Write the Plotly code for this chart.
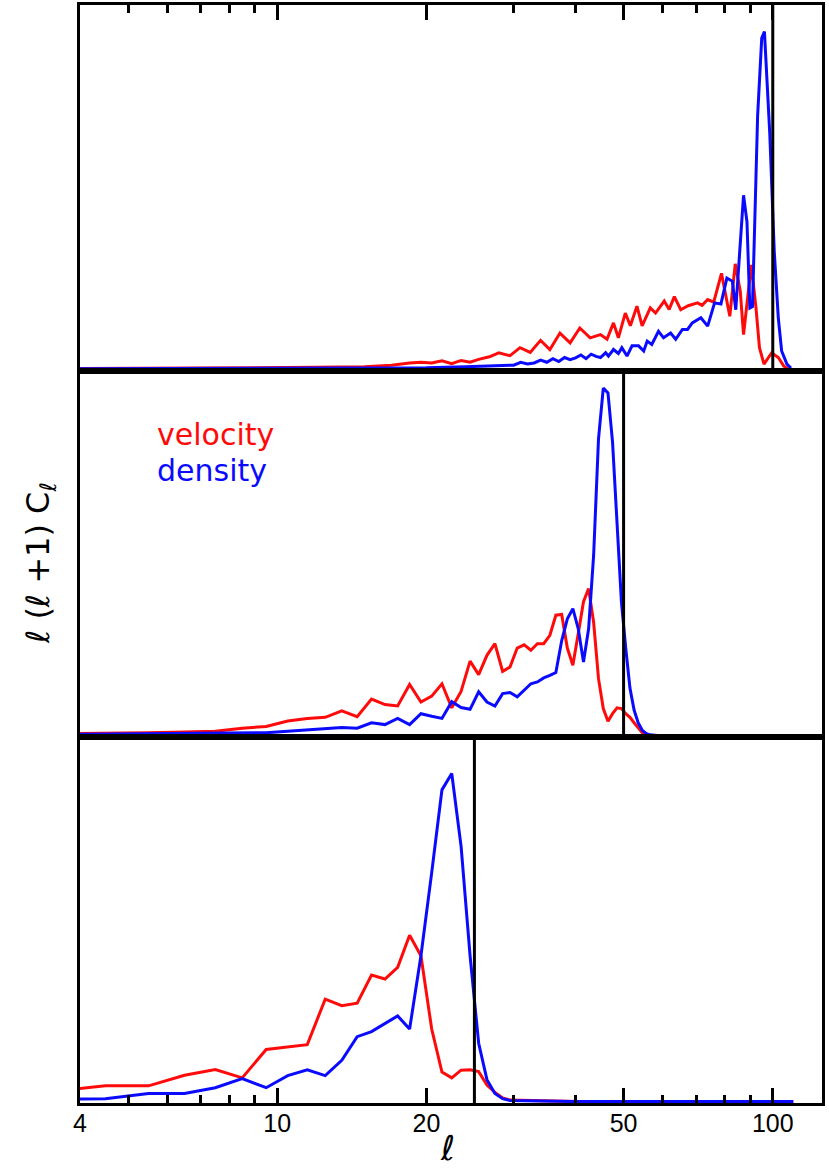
import math
import plotly.graph_objects as go
from plotly.subplots import make_subplots

# ---------------- data (values in arbitrary units, each panel normalised) ----------------
# top panel (cutoff l = 100)
top_vel_l = [4, 8, 12, 15, 17, 18.5, 19.5, 20.5, 21.5, 22.5, 23.5, 24.5, 25.5, 26.8, 28, 29.5,
             30.9, 32.4, 34, 35.5, 37.2, 39, 40.8, 42.8, 44.9, 46.3, 47.7, 48.8, 50.4, 51.6,
             53.2, 54.5, 56.6, 58, 60.4, 61.8, 63.3, 65.2, 67.5, 70.5, 72, 73.9, 76, 78.8,
             80.8, 81.9, 84, 86, 87.3, 88.8, 90.5, 92.5, 94, 96, 98.6, 99.5, 102.6, 105.2, 107.5]
top_vel = [0.003, 0.004, 0.006, 0.008, 0.012, 0.018, 0.02, 0.018, 0.024, 0.016, 0.025, 0.02,
           0.028, 0.035, 0.046, 0.038, 0.06, 0.047, 0.08, 0.055, 0.1, 0.073, 0.114, 0.087,
           0.096, 0.083, 0.128, 0.087, 0.155, 0.12, 0.174, 0.12, 0.169, 0.155, 0.188, 0.165,
           0.2, 0.164, 0.175, 0.183, 0.176, 0.192, 0.185, 0.264, 0.192, 0.146, 0.29, 0.214,
           0.096, 0.196, 0.287, 0.169, 0.06, 0.015, 0.037, 0.046, 0.033, 0.01, 0.0]

top_den_l = [4, 10, 15, 20, 24, 26, 28, 30, 31, 32, 33, 34, 35, 36, 37, 38, 39, 40, 41, 42,
             43, 44, 44.9, 46.0, 46.6, 47.7, 48.8, 49.6, 50.8, 52.0, 53.6, 54.9, 55.8, 57.0,
             58.8, 60.2, 62.2, 63.7, 65.7, 67.3, 68.8, 71.6, 73.9, 76.3, 78.6, 80.8, 82.9,
             84.2, 87.3, 88.7, 89.9, 91.0, 93.2, 95.0, 96.2, 98.6, 100.7, 102.6, 104.2, 106.8, 108.8]
top_den = [0.002, 0.003, 0.004, 0.005, 0.008, 0.009, 0.012, 0.012, 0.02, 0.015, 0.018, 0.026,
           0.02, 0.03, 0.022, 0.033, 0.027, 0.032, 0.04, 0.03, 0.042, 0.036, 0.033, 0.046,
           0.037, 0.055, 0.044, 0.06, 0.037, 0.065, 0.065, 0.051, 0.078, 0.069, 0.105, 0.087,
           0.1, 0.083, 0.11, 0.11, 0.128, 0.142, 0.119, 0.183, 0.18, 0.251, 0.242, 0.164,
           0.478, 0.405, 0.169, 0.173, 0.696, 0.909, 0.927, 0.65, 0.323, 0.142, 0.051, 0.015, 0.004]

# middle panel (cutoff l = 50)
mid_l = [3.5, 4.5, 5.5, 6.5, 7.5, 8.5, 9.5, 10.5, 11.5, 12.5, 13.5, 14.5, 15.5, 16.5, 17.5, 18.5,
         19.5, 20.5, 21.5, 22.5, 23.5, 24.5, 25.5, 26.5, 27.5, 28.5, 29.5, 30.5, 31.5, 32.5,
         33.5, 34.5, 35.5, 36.5, 37.5, 38.5, 39.5, 40.5, 41.5, 42.5, 43.5, 44.5, 45.5, 46.5,
         47.5, 48.5, 49.5, 50.5, 51.5, 52.5, 53.5, 54.5, 55.5, 56.5, 57.5, 58.5]
mid_vel = [0.005, 0.006, 0.008, 0.01, 0.012, 0.02, 0.025, 0.04, 0.047, 0.05, 0.068, 0.052, 0.1,
           0.085, 0.081, 0.14, 0.092, 0.108, 0.142, 0.076, 0.121, 0.204, 0.167, 0.22, 0.252,
           0.176, 0.188, 0.24, 0.249, 0.234, 0.252, 0.252, 0.275, 0.33, 0.332, 0.24, 0.193,
           0.28, 0.367, 0.403, 0.311, 0.156, 0.074, 0.039, 0.06, 0.076, 0.074, 0.06, 0.05,
           0.035, 0.02, 0.008, 0.003, 0.0, 0.0, 0.0]
mid_den = [0.003, 0.004, 0.005, 0.005, 0.006, 0.007, 0.008, 0.012, 0.015, 0.018, 0.022, 0.02, 0.035,
           0.03, 0.047, 0.03, 0.06, 0.053, 0.047, 0.093, 0.077, 0.072, 0.12, 0.092, 0.081,
           0.115, 0.118, 0.106, 0.124, 0.142, 0.147, 0.158, 0.165, 0.173, 0.26, 0.32, 0.348,
           0.293, 0.202, 0.293, 0.494, 0.814, 0.953, 0.94, 0.805, 0.576, 0.366, 0.24, 0.13,
           0.07, 0.035, 0.015, 0.006, 0.002, 0.0, 0.0]

# bottom panel (cutoff l = 25)
bot_l = [3.5, 4.5, 5.5, 6.5, 7.5, 8.5, 9.5, 10.5, 11.5, 12.5, 13.5, 14.5, 15.5, 16.5, 17.5,
         18.5, 19.5, 20.5, 21.5, 22.5, 23.5, 24.5, 25.5, 26.5, 27.5, 28.5, 29.5, 40, 70, 110]
bot_vel = [0.028, 0.043, 0.043, 0.072, 0.088, 0.065, 0.143, 0.15, 0.156, 0.281, 0.263, 0.27,
           0.347, 0.336, 0.368, 0.456, 0.40, 0.199, 0.081, 0.065, 0.086, 0.087, 0.082, 0.045,
           0.025, 0.01, 0.004, 0.0, 0.0, 0.0]
bot_den = [0.006, 0.008, 0.022, 0.022, 0.038, 0.063, 0.038, 0.071, 0.087, 0.071, 0.113, 0.178,
           0.192, 0.213, 0.235, 0.199, 0.40, 0.628, 0.855, 0.90, 0.70, 0.40, 0.16, 0.06,
           0.022, 0.008, 0.003, 0.0, 0.0, 0.0]

cutoffs = [100, 50, 25]
major_ticks = [4, 10, 20, 50, 100]
major_text = ["4", "10", "20", "50", "100"]
minor_ticks = [5, 6, 7, 8, 9, 30, 40, 60, 70, 80, 90]
x_range = [4, 125.7]

RED = "#ff0a0a"
BLUE = "#0a0aff"

panels = [
    (top_vel_l, top_vel, top_den_l, top_den),
    (mid_l, mid_vel, mid_l, mid_den),
    (bot_l, bot_vel, bot_l, bot_den),
]

fig = make_subplots(rows=3, cols=1, shared_xaxes=True, vertical_spacing=0)

for i, (lv, v, ld, d) in enumerate(panels):
    r = i + 1
    fig.add_trace(go.Scatter(x=lv, y=v, mode="lines", line=dict(color=RED, width=3),
                             showlegend=False, hoverinfo="skip"), row=r, col=1)
    fig.add_trace(go.Scatter(x=ld, y=d, mode="lines", line=dict(color=BLUE, width=3),
                             showlegend=False, hoverinfo="skip"), row=r, col=1)
    fig.add_trace(go.Scatter(x=[cutoffs[i], cutoffs[i]], y=[-1, 2], mode="lines",
                             line=dict(color="black", width=3),
                             showlegend=False, hoverinfo="skip"), row=r, col=1)

xr = [math.log10(x_range[0]), math.log10(x_range[1])]
axis_common = dict(type="log", range=xr, showline=True, linecolor="black", linewidth=2.5,
                   mirror=True, showgrid=False, zeroline=False)

fig.update_xaxes(**axis_common)
# top panel: ticks on top edge
fig.update_xaxes(row=1, col=1, side="top", ticks="inside", ticklen=15, tickwidth=2.5,
                 tickcolor="black", tickvals=major_ticks, showticklabels=False,
                 minor=dict(tickvals=minor_ticks, ticks="inside", ticklen=8, tickwidth=2.5,
                            tickcolor="black", showgrid=False))
fig.update_xaxes(row=2, col=1, ticks="", showticklabels=False)
fig.update_xaxes(row=3, col=1, ticks="inside", ticklen=15, tickwidth=2.5, tickcolor="black",
                 tickvals=major_ticks, ticktext=major_text, showticklabels=True,
                 ticklabelstandoff=-4,
                 tickfont=dict(family="Liberation Sans, Arial", size=25, color="black"),
                 minor=dict(tickvals=minor_ticks, ticks="inside", ticklen=8, tickwidth=2.5,
                            tickcolor="black", showgrid=False))

fig.update_yaxes(range=[-0.004, 1.0], showline=True, linecolor="black", linewidth=2.5,
                 mirror=True, ticks="", showticklabels=False, showgrid=False, zeroline=False)

fig.add_annotation(xref="paper", yref="paper", x=(155 - 80) / 742, y=(1103 - 435) / 1098,
                   xanchor="left", yanchor="middle", showarrow=False, text="velocity",
                   font=dict(family="DejaVu Sans", size=30, color=RED))
fig.add_annotation(xref="paper", yref="paper", x=(155 - 80) / 742, y=(1103 - 470) / 1098,
                   xanchor="left", yanchor="middle", showarrow=False, text="density",
                   font=dict(family="DejaVu Sans", size=30, color=BLUE))
fig.add_annotation(xref="paper", yref="paper", x=(40 - 80) / 742, y=(1103 - 563) / 1098,
                   xanchor="center", yanchor="middle", showarrow=False, textangle=-90,
                   text="ℓ (ℓ +1) C<sub>ℓ</sub>",
                   font=dict(family="DejaVu Sans", size=32, color="black"))
fig.add_annotation(xref="paper", yref="paper", x=(447 - 80) / 742, y=(1103 - 1169) / 1098,
                   xanchor="center", yanchor="bottom", showarrow=False, text="ℓ",
                   borderpad=0,
                   font=dict(family="DejaVu Sans", size=34, color="black"))

fig.update_layout(width=829, height=1168, margin=dict(l=80, r=7, t=5, b=65),
                  paper_bgcolor="white", plot_bgcolor="white")

fig.write_html("out.html")
